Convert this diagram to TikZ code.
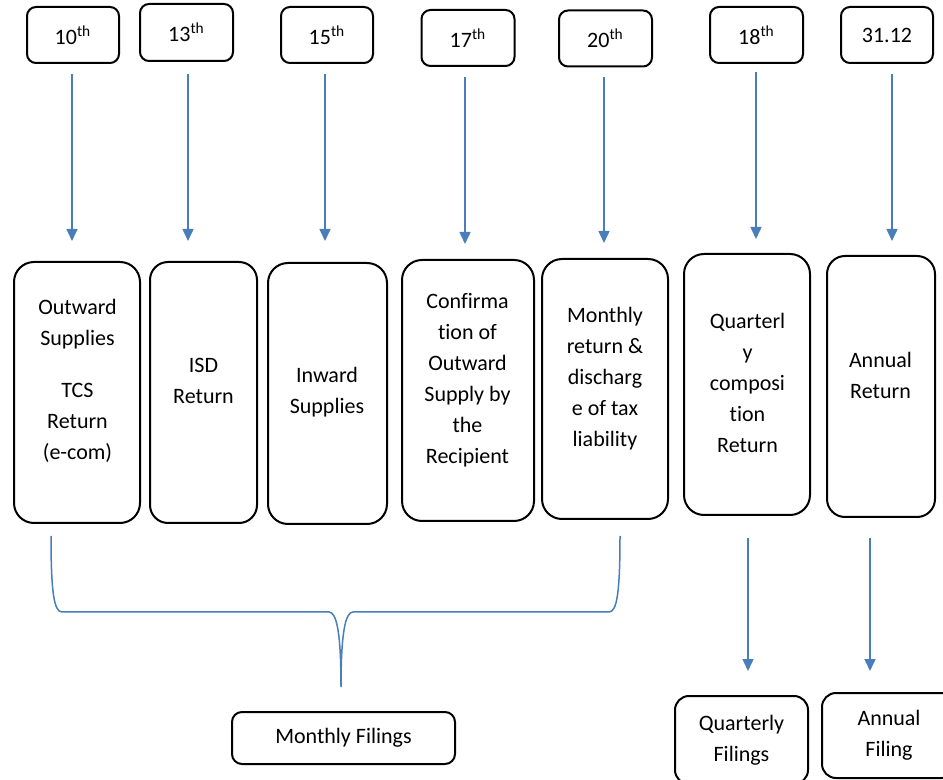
\documentclass[tikz,border=0pt]{standalone}
\usepackage{fontspec}
\setmainfont{Carlito}[Ligatures=NoCommon]
\usetikzlibrary{arrows.meta}
\definecolor{linkblue}{RGB}{74,126,187}
\begin{document}
\begin{tikzpicture}[x=0.5pt,y=-0.5pt,
  every node/.style={font=\fontsize{11}{15.5}\selectfont, inner sep=0pt},
  datebox/.style={draw, line width=1pt, rounded corners=4.5pt},
  retbox/.style={draw, line width=1pt, rounded corners=10pt},
  filebox/.style={draw, line width=1pt, rounded corners=6pt, align=center},
  txt/.style={align=center},
  link/.style={draw=linkblue, line width=0.75pt},
  arr/.style={link, -{Triangle[width=5.5pt,length=6pt]}}
]
\clip (0,0) rectangle (943,780);

% due dates
\node[datebox, minimum width=46pt,   minimum height=28pt]   (t10)   at (73,35)    {10\textsuperscript{th}};
\node[datebox, minimum width=46.5pt, minimum height=28.5pt] (t13)   at (186.5,32.5) {13\textsuperscript{th}};
\node[datebox, minimum width=46pt,   minimum height=28pt]   (t15)   at (327,35)   {15\textsuperscript{th}};
\node[datebox, minimum width=46.5pt, minimum height=28pt]   (t17)   at (468,38)   {17\textsuperscript{th}};
\node[datebox, minimum width=46.5pt, minimum height=28pt]   (t20)   at (605.5,38.5) {20\textsuperscript{th}};
\node[datebox, minimum width=46.5pt, minimum height=28pt]   (t18)   at (756.5,35) {18\textsuperscript{th}};
\node[datebox, minimum width=46pt,   minimum height=28pt]   (t3112) at (887,35)   {31.12};

% returns
\node[retbox, minimum width=63pt,   minimum height=130.5pt] (b10)   at (77,392.5)  {};
\node[txt] (b10t) at (77.5,380.5) {Outward\\Supplies\\[10.5pt]TCS\\Return\\(e-com)};
\node[retbox, rounded corners=9pt, minimum width=53.5pt, minimum height=130.5pt] (b13) at (203.5,392.5) {};
\node[txt] (b13t) at (203.5,381) {ISD\\Return};
\node[retbox, minimum width=59.5pt, minimum height=130.5pt] (b15)   at (327.5,393.5) {};
\node[txt] (b15t) at (327,392.5) {Inward\\Supplies};
\node[retbox, minimum width=66pt,   minimum height=130.5pt] (b17)   at (468,390.5) {};
\node[txt] (b17t) at (467.5,380) {Confirma\\tion of\\Outward\\Supply by\\the\\Recipient};
\node[retbox, minimum width=63pt,   minimum height=130pt]   (b20)   at (605,389)   {};
\node[txt] (b20t) at (605,378.5) {Monthly\\return \&\\discharg\\e of tax\\liability};
\node[retbox, minimum width=63pt,   minimum height=130.5pt] (b18)   at (747,384.5) {};
\node[txt] (b18t) at (747.5,383) {Quarterl\\y\\composi\\tion\\Return};
\node[retbox, rounded corners=9pt, minimum width=54pt, minimum height=130.5pt] (b3112) at (881,386.5) {};
\node[txt] (b3112t) at (880.5,375) {Annual\\Return};

% filing groups
\node[filebox, rounded corners=5pt, minimum width=111.5pt, minimum height=26pt] (fm) at (343.5,738) {Monthly Filings};
\node[filebox, rounded corners=7pt, minimum width=66.5pt, minimum height=44pt] (fq) at (741.5,740) {Quarterly\\Filings};
\node[filebox, rounded corners=7pt, minimum width=67pt, minimum height=42.5pt] (fa) at (889,735.5) {Annual\\Filing};

% date -> return arrows
\coordinate (a10)   at ([xshift=-0.5pt]t10.south);
\coordinate (a13)   at ([xshift=0.75pt]t13.south);
\coordinate (a15)   at ([xshift=-1pt]t15.south);
\coordinate (a17)   at ([xshift=-1.5pt]t17.south);
\coordinate (a20)   at ([xshift=-0.75pt]t20.south);
\coordinate (a18)   at ([xshift=-0.25pt]t18.south);
\coordinate (a3112) at ([xshift=2.5pt]t3112.south);
\draw[arr, shorten <=5pt, shorten >=10pt]   (a10)   -- (a10 |- b10.north);
\draw[arr, shorten <=6pt, shorten >=10pt]   (a13)   -- (a13 |- b13.north);
\draw[arr, shorten <=5pt, shorten >=10.5pt] (a15)   -- (a15 |- b15.north);
\draw[arr, shorten <=5pt, shorten >=7.5pt]  (a17)   -- (a17 |- b17.north);
\draw[arr, shorten <=5pt, shorten >=7.5pt]  (a20)   -- (a20 |- b20.north);
\draw[arr, shorten <=4pt, shorten >=7pt]    (a18)   -- (a18 |- b18.north);
\draw[arr, shorten <=5pt, shorten >=7pt]    (a3112) -- (a3112 |- b3112.north);

% return -> filing arrows
\coordinate (q1) at ([xshift=0.5pt]b18.south);
\coordinate (y1) at ([xshift=-5.5pt]b3112.south);
\draw[arr, shorten <=11pt, shorten >=12pt]   (q1) -- (q1 |- fq.north);
\draw[arr, shorten <=10pt, shorten >=10.5pt] (y1) -- (y1 |- fa.north);

% brace grouping the monthly returns
\coordinate (bl)   at (51,536);
\coordinate (br)   at (620,536);
\coordinate (btip) at (341,687);
\draw[link] (bl) .. controls (51,592) and (54,612) .. (62,612) -- (329,612)
  .. controls (337,612) and (341,635) .. (btip)
  .. controls (341,635) and (345,612) .. (353,612) -- (609,612)
  .. controls (617,612) and (620,592) .. (br);
\end{tikzpicture}
\end{document}
